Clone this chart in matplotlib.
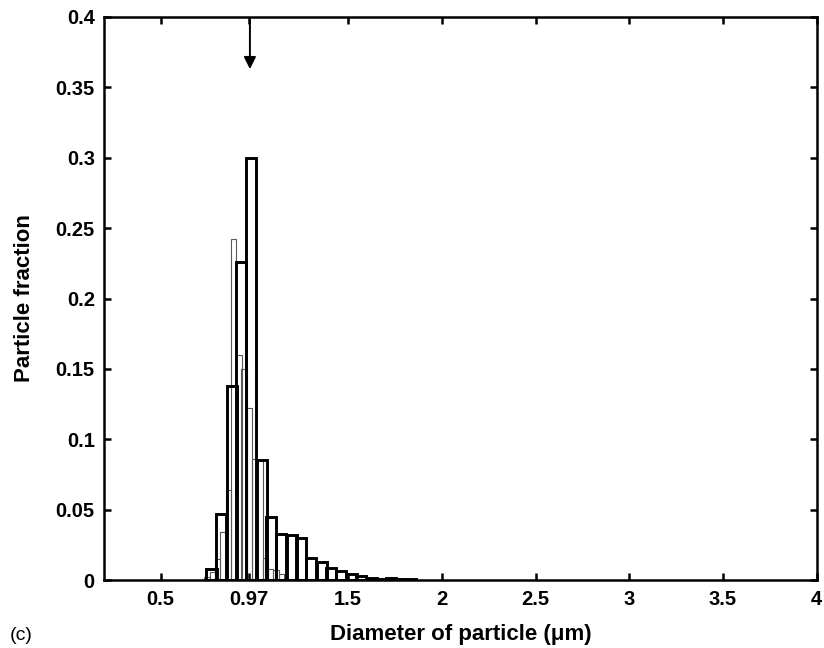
import matplotlib
matplotlib.use('Agg')
import matplotlib.pyplot as plt

plt.rcParams['font.family'] = ['Liberation Sans', 'DejaVu Sans']

# thick histogram (bin centres, fractions)
thick_x = [0.771, 0.824, 0.878, 0.931, 0.984, 1.038, 1.091, 1.144, 1.198, 1.251,
           1.304, 1.358, 1.411, 1.464, 1.518, 1.571, 1.625, 1.678, 1.731, 1.784, 1.838]
thick_y = [0.008, 0.047, 0.138, 0.226, 0.300, 0.085, 0.045, 0.033, 0.032, 0.030,
           0.016, 0.013, 0.0088, 0.0066, 0.0042, 0.003, 0.0017, 0.001, 0.0012, 0.001, 0.0005]

# thin histogram (finer bins)
thin_x = [0.747, 0.775, 0.803, 0.832, 0.860, 0.888, 0.917, 0.945, 0.973, 1.001,
          1.030, 1.058, 1.086, 1.115, 1.143, 1.171]
thin_y = [0.002, 0.006, 0.0147, 0.034, 0.064, 0.242, 0.160, 0.150, 0.122, 0.086,
          0.085, 0.016, 0.008, 0.007, 0.004, 0.001]

xticks = [0.5, 0.97, 1.5, 2, 2.5, 3, 3.5, 4]
xticklabels = ['0.5', '0.97', '1.5', '2', '2.5', '3', '3.5', '4']
yticks = [0, 0.05, 0.1, 0.15, 0.2, 0.25, 0.3, 0.35, 0.4]
yticklabels = ['0', '0.05', '0.1', '0.15', '0.2', '0.25', '0.3', '0.35', '0.4']
d_mean = 0.976

fig = plt.figure(figsize=(8.24, 6.48), dpi=100)
ax = fig.add_axes([0.1268, 0.1049, 0.8643, 0.8689])

ax.bar(thin_x, thin_y, width=0.0283, fill=False, edgecolor='0.35', linewidth=0.8)
ax.bar(thick_x, thick_y, width=0.0534, fill=False, edgecolor='k', linewidth=2.1)

ax.annotate('', xy=(d_mean, 0.361), xytext=(d_mean, 0.4),
            arrowprops=dict(arrowstyle='-|>', color='k', lw=1.4, mutation_scale=18))

ax.set_xlim(0.2, 4)
ax.set_ylim(0, 0.4)
ax.set_xticks(xticks)
ax.set_xticklabels(xticklabels)
ax.set_yticks(yticks)
ax.set_yticklabels(yticklabels)
ax.tick_params(direction='in', top=True, right=True, length=5, width=1.8,
               labelsize=14.5, pad=7)
for lab in ax.get_xticklabels() + ax.get_yticklabels():
    lab.set_fontweight('bold')
for s in ax.spines.values():
    s.set_linewidth(1.8)

ax.set_xlabel('Diameter of particle (\u03bcm)', fontsize=16, fontweight='bold', labelpad=11)
ax.set_ylabel('Particle fraction', fontsize=16, fontweight='bold', labelpad=15)
fig.text(0.012, 0.012, '(c)', fontsize=14)

fig.savefig('out.png', dpi=100)
